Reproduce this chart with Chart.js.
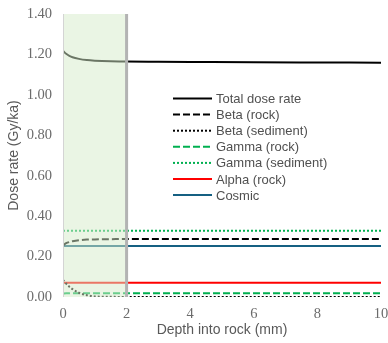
<!DOCTYPE html>
<html>
<head>
<meta charset="utf-8">
<script src="https://cdn.jsdelivr.net/npm/chart.js@4/dist/chart.umd.min.js"></script>
<style>
  html, body { margin: 0; padding: 0; background: #fff; }
  #wrap { width: 388px; height: 343px; position: relative; }
</style>
</head>
<body>
<div id="wrap"><canvas id="doseChart"></canvas></div>
<script>
// depth into rock (mm)
const depth = [0, 0.1, 0.2, 0.3, 0.5, 0.75, 1, 1.5, 2, 3, 4, 6, 8, 10];

// dose rates (Gy/ka)
const totalDose     = [1.218, 1.203, 1.193, 1.186, 1.178, 1.172, 1.169, 1.166, 1.165, 1.164, 1.163, 1.161, 1.160, 1.159];
const betaRock      = [0.255, 0.266, 0.272, 0.276, 0.281, 0.284, 0.285, 0.286, 0.287, 0.287, 0.287, 0.287, 0.287, 0.287];
const betaSediment  = [0.085, 0.066, 0.051, 0.039, 0.021, 0.009, 0.003, 0.001, 0, 0, 0, 0, 0, 0];
const gammaRock     = [0.017, 0.018, 0.018, 0.019, 0.019, 0.019, 0.019, 0.019, 0.019, 0.019, 0.019, 0.019, 0.019, 0.019];
const gammaSediment = [0.328, 0.328, 0.328, 0.328, 0.328, 0.328, 0.328, 0.328, 0.328, 0.328, 0.328, 0.328, 0.328, 0.328];
const alphaRock     = [0.071, 0.071, 0.071, 0.071, 0.071, 0.071, 0.071, 0.071, 0.071, 0.071, 0.071, 0.071, 0.071, 0.071];
const cosmic        = [0.252, 0.252, 0.252, 0.252, 0.252, 0.252, 0.252, 0.252, 0.252, 0.252, 0.252, 0.252, 0.252, 0.252];

const shadeFrom = 0, shadeTo = 2;

const pts = arr => arr.map((v, i) => ({ x: depth[i], y: v }));

function ds(label, values, color, dash) {
    return {
        label: label,
        data: pts(values),
        borderColor: color,
        borderWidth: 2,
        borderDash: dash,
        pointRadius: 0,
        cubicInterpolationMode: 'monotone',
        fill: false
    };
}

// shaded zone drawn over the lines (fades them like the original)
const shadePlugin = {
    id: 'shade',
    afterDatasetsDraw(chart) {
        const {ctx, chartArea: a, scales: {x}} = chart;
        const x0 = x.getPixelForValue(shadeFrom), x1 = x.getPixelForValue(shadeTo);
        ctx.save();
        ctx.fillStyle = 'rgba(213,236,201,0.5)';
        ctx.fillRect(x0, a.top, x1 - x0, a.bottom - a.top);
        ctx.strokeStyle = '#d4d4d4';
        ctx.lineWidth = 1;
        ctx.beginPath();
        ctx.moveTo(x0 + 0.5, a.top); ctx.lineTo(x0 + 0.5, a.bottom);
        ctx.stroke();
        ctx.strokeStyle = '#b3b3b3';
        ctx.lineWidth = 3;
        ctx.beginPath();
        ctx.moveTo(x1, a.top); ctx.lineTo(x1, a.bottom);
        ctx.stroke();
        ctx.restore();
    }
};

// legend inside the plot
const legendPlugin = {
    id: 'inLegend',
    afterDraw(chart) {
        const ctx = chart.ctx;
        ctx.save();
        ctx.font = '13px "Liberation Sans", Arial, sans-serif';
        ctx.textBaseline = 'middle';
        chart.data.datasets.forEach((d, i) => {
            const y = 98.5 + i * 16.1;
            ctx.strokeStyle = d.borderColor;
            ctx.lineWidth = 2;
            ctx.setLineDash(d.borderDash || []);
            ctx.beginPath();
            ctx.moveTo(173, y); ctx.lineTo(212, y);
            ctx.stroke();
            ctx.setLineDash([]);
            ctx.fillStyle = '#505050';
            ctx.fillText(d.label, 216, y + 1);
        });
        ctx.restore();
    }
};

const tickFont = { family: '"Liberation Serif", "Times New Roman", serif', size: 14.5 };
const titleFont = { family: '"Liberation Sans", Arial, sans-serif', size: 14 };

new Chart(document.getElementById('doseChart'), {
    type: 'line',
    data: {
        datasets: [
            ds('Total dose rate', totalDose, '#000000', []),
            ds('Beta (rock)', betaRock, '#000000', [7, 3]),
            ds('Beta (sediment)', betaSediment, '#000000', [2, 2]),
            ds('Gamma (rock)', gammaRock, '#00b050', [7, 3]),
            ds('Gamma (sediment)', gammaSediment, '#00b050', [2, 2]),
            ds('Alpha (rock)', alphaRock, '#ff0000', []),
            ds('Cosmic', cosmic, '#156082', [])
        ]
    },
    options: {
        responsive: true,
        maintainAspectRatio: false,
        animation: false,
        layout: { padding: { top: 14, right: 7, bottom: 0, left: 0 } },
        plugins: { legend: { display: false }, tooltip: { enabled: false } },
        scales: {
            x: {
                type: 'linear',
                min: 0, max: 10,
                grid: { display: false, drawTicks: false },
                border: { display: false },
                ticks: { stepSize: 2, font: tickFont, color: '#6b6b6b', padding: 8 },
                title: { display: true, text: 'Depth into rock (mm)', font: titleFont, color: '#595959', padding: { top: 4, bottom: 4 } },
                afterFit(s) { s.height = 46; s.paddingLeft = 0; s.paddingRight = 0; }
            },
            y: {
                min: 0, max: 1.4,
                grid: { display: false, drawTicks: false },
                border: { display: false },
                ticks: { stepSize: 0.2, font: tickFont, color: '#6b6b6b', padding: 11, callback: v => v.toFixed(2) },
                title: { display: true, text: 'Dose rate (Gy/ka)', font: titleFont, color: '#595959', padding: { top: 6, bottom: 0 } },
                afterFit(s) { s.width = 63; s.paddingTop = 0; s.paddingBottom = 0; }
            }
        }
    },
    plugins: [shadePlugin, legendPlugin]
});
</script>
</body>
</html>
